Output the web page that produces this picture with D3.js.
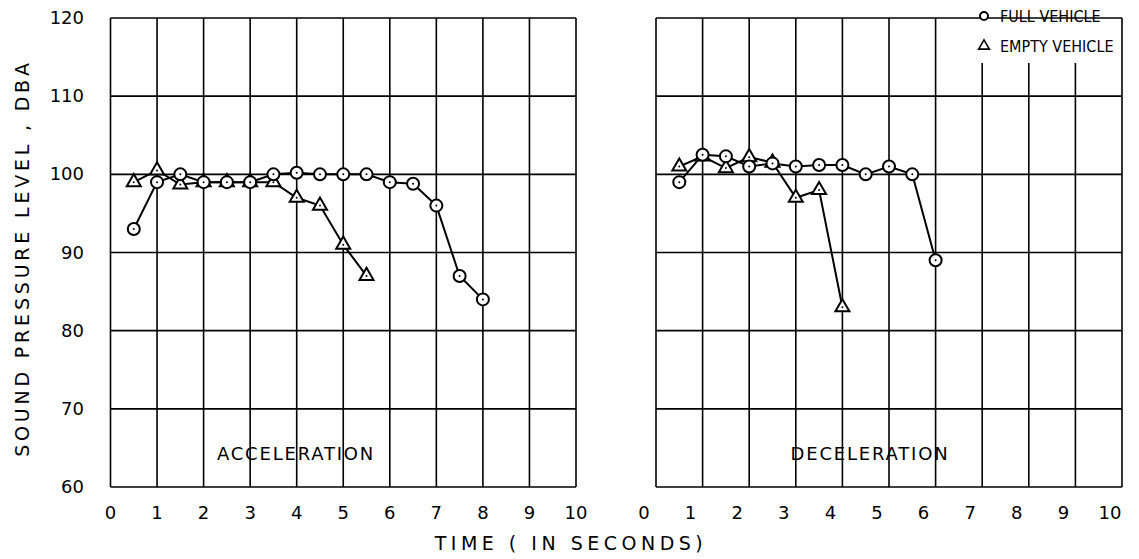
<!DOCTYPE html>
<html>
<head>
<meta charset="utf-8">
<script src="https://cdn.jsdelivr.net/npm/d3@7"></script>
<style>
  body { margin: 0; background: #fff; }
  text { font-family: "DejaVu Sans", sans-serif; fill: #000; }
</style>
</head>
<body>
<div id="chart"></div>
<script>
// Data (time in seconds, sound pressure level in dBA)
const timeFullAcc = [0.5, 1, 1.5, 2, 2.5, 3, 3.5, 4, 4.5, 5, 5.5, 6, 6.5, 7, 7.5, 8];
const splFullAcc = [93, 99, 100, 99, 99, 99, 100, 100.2, 100, 100, 100, 99, 98.8, 96, 87, 84];
const timeEmptyAcc = [0.5, 1, 1.5, 2, 2.5, 3, 3.5, 4, 4.5, 5, 5.5];
const splEmptyAcc = [99, 100.5, 98.7, 99, 99, 99, 99, 97, 96, 91, 87];

const timeFullDec = [0.5, 1, 1.5, 2, 2.5, 3, 3.5, 4, 4.5, 5, 5.5, 6];
const splFullDec = [99, 102.5, 102.3, 101, 101.4, 101, 101.2, 101.2, 100, 101, 100, 89];
const timeEmptyDec = [0.5, 1, 1.5, 2, 2.5, 3, 3.5, 4];
const splEmptyDec = [101, 102.3, 100.8, 102.2, 101.5, 97, 98, 83];

const xTicks = [0, 1, 2, 3, 4, 5, 6, 7, 8, 9, 10];
const yTicks = [60, 70, 80, 90, 100, 110, 120];
const panelNames = ["ACCELERATION", "DECELERATION"];
const legendNames = ["FULL VEHICLE", "EMPTY VEHICLE"];

const zip = (xs, ys) => xs.map((t, i) => ({ t: t, v: ys[i] }));

const width = 1139, height = 559;
const svg = d3.select("#chart").append("svg")
  .attr("width", width)
  .attr("height", height);

var y = d3.scaleLinear().domain([60, 120]).range([487, 18]);

const panels = [
  { x: d3.scaleLinear().domain([0, 10]).range([110.5, 576]), labelShift: 0, captionX: 296,
    name: panelNames[0], full: zip(timeFullAcc, splFullAcc), empty: zip(timeEmptyAcc, splEmptyAcc) },
  { x: d3.scaleLinear().domain([0, 10]).range([656, 1122]), labelShift: -12, captionX: 870,
    name: panelNames[1], full: zip(timeFullDec, splFullDec), empty: zip(timeEmptyDec, splEmptyDec) }
];

const triangle = d3.symbol().type(d3.symbolTriangle).size(85);

panels.forEach(function(p) {
  const g = svg.append("g");

  // grid
  g.selectAll(".vgrid").data(xTicks).enter().append("line")
    .attr("x1", d => p.x(d)).attr("x2", d => p.x(d))
    .attr("y1", y(120)).attr("y2", y(60))
    .attr("stroke", "#000").attr("stroke-width", 1.6);
  g.selectAll(".hgrid").data(yTicks).enter().append("line")
    .attr("x1", p.x(0)).attr("x2", p.x(10))
    .attr("y1", d => y(d)).attr("y2", d => y(d))
    .attr("stroke", "#000").attr("stroke-width", 1.6);

  // x tick labels
  g.selectAll(".xlab").data(xTicks).enter().append("text")
    .attr("x", d => p.x(d) + p.labelShift)
    .attr("y", 519)
    .attr("text-anchor", "middle")
    .style("font-size", "18px")
    .text(d => d);

  // panel caption
  g.append("text")
    .attr("x", p.captionX)
    .attr("y", 460)
    .attr("text-anchor", "middle")
    .style("font-size", "18px")
    .style("letter-spacing", "1.8px")
    .text(p.name);

  const line = d3.line().x(d => p.x(d.t)).y(d => y(d.v));

  g.append("path").datum(p.empty).attr("d", line)
    .attr("fill", "none").attr("stroke", "#000").attr("stroke-width", 2);
  g.append("path").datum(p.full).attr("d", line)
    .attr("fill", "none").attr("stroke", "#000").attr("stroke-width", 2);

  // empty vehicle markers (triangles)
  const tri = g.selectAll(".tri").data(p.empty).enter().append("g")
    .attr("transform", d => "translate(" + p.x(d.t) + "," + y(d.v) + ")");
  tri.append("path").attr("d", triangle)
    .attr("fill", "#fff").attr("stroke", "#000").attr("stroke-width", 2);
  tri.append("circle").attr("r", 1).attr("fill", "#000");

  // full vehicle markers (circles)
  const circ = g.selectAll(".circ").data(p.full).enter().append("g")
    .attr("transform", d => "translate(" + p.x(d.t) + "," + y(d.v) + ")");
  circ.append("circle").attr("r", 6)
    .attr("fill", "#fff").attr("stroke", "#000").attr("stroke-width", 2);
  circ.append("circle").attr("r", 1).attr("fill", "#000");
});

// y tick labels
svg.selectAll(".ylab").data(yTicks).enter().append("text")
  .attr("x", 84)
  .attr("y", d => y(d) + 6)
  .attr("text-anchor", "end")
  .style("font-size", "18px")
  .text(d => d);

// y axis title
svg.append("text")
  .attr("transform", "translate(29," + 258 + ") rotate(-90)")
  .attr("text-anchor", "middle")
  .style("font-size", "19px")
  .style("letter-spacing", "3.8px")
  .text("SOUND PRESSURE LEVEL , DBA");

// x axis title
svg.append("text")
  .attr("x", 571)
  .attr("y", 550)
  .attr("text-anchor", "middle")
  .style("font-size", "19px")
  .style("letter-spacing", "4.5px")
  .text("TIME ( IN SECONDS)");

// legend
const legend = svg.append("g");
legend.append("rect")
  .attr("x", 970).attr("y", 19).attr("width", 151).attr("height", 44)
  .attr("fill", "#fff");
const lx = 984;
legend.append("circle").attr("cx", lx).attr("cy", 16).attr("r", 4)
  .attr("fill", "#fff").attr("stroke", "#000").attr("stroke-width", 2);
legend.append("path").attr("d", d3.symbol().type(d3.symbolTriangle).size(50))
  .attr("transform", "translate(" + lx + ",46)")
  .attr("fill", "#fff").attr("stroke", "#000").attr("stroke-width", 1.6);
legend.selectAll(".ltext").data(legendNames).enter().append("text")
  .attr("x", lx + 16)
  .attr("y", (d, i) => 22 + i * 30)
  .style("font-family", "'DejaVu Sans Condensed', 'DejaVu Sans', sans-serif")
  .style("font-size", "16px")
  .text(d => d);
</script>
</body>
</html>
